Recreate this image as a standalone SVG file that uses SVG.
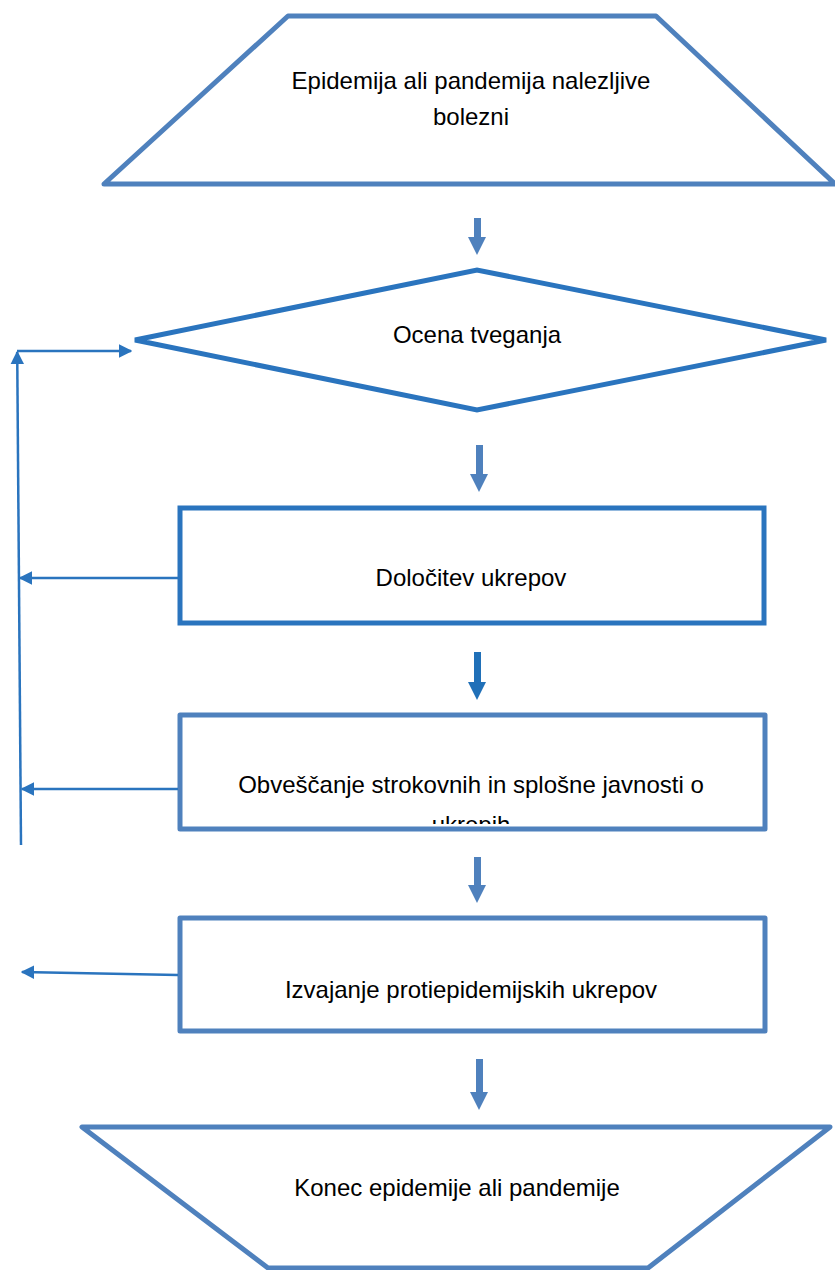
<svg xmlns="http://www.w3.org/2000/svg" width="835" height="1270" viewBox="0 0 835 1270">
<style>
.s1{fill:#fff;stroke:#4f81bd;stroke-width:5;stroke-linejoin:round}
.s2{fill:#fff;stroke:#2a74be;stroke-width:5;stroke-linejoin:miter}
.t{font-family:"Liberation Sans",Arial,sans-serif;font-size:24px;fill:#000;text-anchor:middle}
.dn{fill:#4f81bd}
.dn2{fill:#2070b8}
.fb{stroke:#2a74be;stroke-width:2.5;fill:none}
</style>
<defs>
<marker id="ah" viewBox="0 0 10 10" refX="9" refY="5" markerWidth="5.5" markerHeight="5.5" orient="auto" markerUnits="strokeWidth">
<path d="M0,0 L10,5 L0,10 z" fill="#2a74be"/>
</marker>
<clipPath id="c2"><rect x="180" y="715" width="585" height="109"/></clipPath>
</defs>
<g id="n1">
<polygon class="s1" points="288,16 656,16 835,184 104,184"/>
<text class="t" x="471" y="89">Epidemija ali pandemija nalezljive</text>
<text class="t" x="471" y="125">bolezni</text>
</g>
<g id="n2">
<polygon class="s2" points="135,340 477,270 826,340 477,410"/>
<text class="t" x="477" y="343">Ocena tveganja</text>
</g>
<g id="n3">
<rect class="s2" x="180" y="508" width="584" height="115"/>
<text class="t" x="471" y="586">Določitev ukrepov</text>
</g>
<g id="n4">
<rect class="s1" x="180" y="715" width="585" height="114" stroke-linejoin="miter"/>
<g clip-path="url(#c2)">
<text class="t" x="471" y="793">Obveščanje strokovnih in splošne javnosti o</text>
<text class="t" x="471" y="833">ukrepih</text>
</g>
</g>
<g id="n5">
<rect class="s1" x="180" y="918" width="585" height="113" stroke-linejoin="miter"/>
<text class="t" x="471" y="998">Izvajanje protiepidemijskih ukrepov</text>
</g>
<g id="n6">
<polygon class="s1" points="82,1127 830,1127 648,1268 268,1268"/>
<text class="t" x="457" y="1196">Konec epidemije ali pandemije</text>
</g>
<g id="connectors">
<polygon class="dn" points="474,218 481,218 481,237 486,237 477,255 468,237 474,237"/>
<polygon class="dn" points="476,445 483,445 483,474 488,474 479,492 470,474 476,474"/>
<polygon class="dn2" points="474,652 481,652 481,682 486,682 477,700 468,682 474,682"/>
<polygon class="dn" points="474,857 481,857 481,885 486,885 477,903 468,885 474,885"/>
<polygon class="dn" points="476,1059 483,1059 483,1092 488,1092 479,1110 470,1092 476,1092"/>
<line class="fb" x1="21" y1="845" x2="17.2" y2="352" marker-end="url(#ah)"/>
<line class="fb" x1="17" y1="351" x2="131" y2="351" marker-end="url(#ah)"/>
<line class="fb" x1="178" y1="578" x2="20" y2="578" marker-end="url(#ah)"/>
<line class="fb" x1="178" y1="789" x2="22" y2="789" marker-end="url(#ah)"/>
<line class="fb" x1="178" y1="975" x2="22" y2="972" marker-end="url(#ah)"/>
</g>
</svg>
